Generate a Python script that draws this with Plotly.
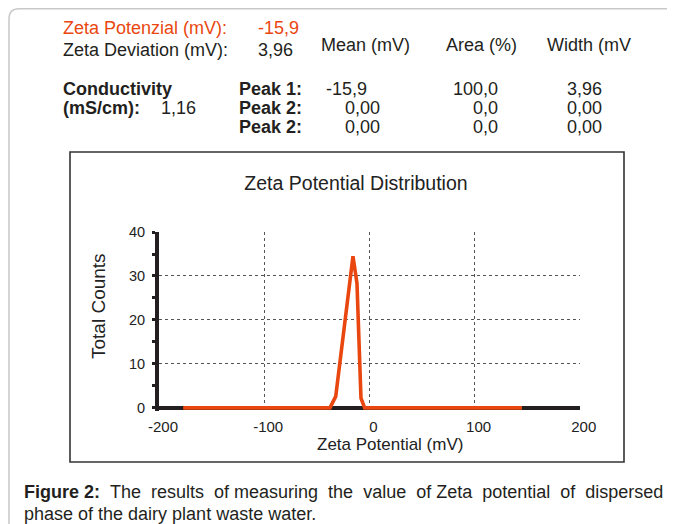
import plotly.graph_objects as go

# ---- data ----
zeta_mv = [-177, -37.5, -32, -15.6, -11.8, -8, -4.5, 145]
total_counts = [0, 0, 2.6, 34.5, 28.3, 2.2, 0, 0]

x_tick_vals = [-200, -100, 0, 100, 200]
x_tick_text = ["-200", "-100", "0", "100", "200"]
y_tick_vals = [0, 10, 20, 30, 40]
y_minor_vals = [5, 15, 25, 35]

peak_labels = ["Peak 1:", "Peak 2:", "Peak 2:"]
peak_mean = ["-15,9", "0,00", "0,00"]
peak_area = ["100,0", "0,0", "0,0"]
peak_width = ["3,96", "0,00", "0,00"]

# the page body has an 8px margin, so the figure is sized to fit the window
OFF = 8
W, H = 675 - OFF, 524 - OFF
ORANGE = "#e9470f"
INK = "#231f20"
FONT = "Liberation Sans, Arial, sans-serif"


def px(x):
    """window pixel x -> paper fraction"""
    return (x - OFF) / W


def py(y):
    """window pixel y (from top) -> paper fraction"""
    return (H - (y - OFF)) / H


fig = go.Figure()
fig.add_trace(go.Scatter(
    x=zeta_mv, y=total_counts, mode="lines",
    line=dict(color=ORANGE, width=3.6), showlegend=False, hoverinfo="skip"))

fig.update_layout(
    template="none",
    width=W, height=H,
    margin=dict(l=0, r=0, t=0, b=0, pad=0, autoexpand=False),
    paper_bgcolor="white", plot_bgcolor="white",
    showlegend=False,
    font=dict(family=FONT, color="#222222"),
    title=dict(text="Zeta Potential Distribution", x=px(356), y=py(183),
               xanchor="center", yanchor="middle", xref="paper", yref="paper",
               font=dict(size=19.5, color="#222222", family=FONT)),
    xaxis=dict(
        domain=[px(159), px(580)], range=[-200, 200.2], automargin=False,
        tickvals=x_tick_vals, ticktext=x_tick_text,
        showgrid=False, zeroline=False, showline=False, ticks="",
        ticklabelstandoff=5, ticklabelshift=4,
        tickfont=dict(size=15, color="#222222"),
        minor=dict(tickvals=[-100, 0, 100, 200], showgrid=True,
                   gridcolor="#555555", griddash="dot", gridwidth=1, ticks=""),
        fixedrange=True,
    ),
    yaxis=dict(
        domain=[py(410.5), py(231.8)], range=[-0.6, 40.05], automargin=False,
        tickvals=y_tick_vals,
        showgrid=True, gridcolor="#555555", griddash="dot", gridwidth=1,
        zeroline=True, zerolinecolor="#231f20", zerolinewidth=4,
        showline=True, linecolor="#231f20", linewidth=4,
        ticks="outside", ticklen=3, tickwidth=3, tickcolor="#231f20",
        ticklabelstandoff=4,
        tickfont=dict(size=14.5, color="#222222"),
        minor=dict(tickvals=y_minor_vals, ticks="outside", ticklen=3,
                   tickwidth=3, tickcolor="#231f20", showgrid=False),
        fixedrange=True,
    ),
)

shapes = [
    # outer light rounded frame
    dict(type="path", xref="paper", yref="paper",
         path=f"M {px(9)},{py(540)} L {px(9)},{py(19)} Q {px(9)},{py(8.8)} {px(19)},{py(8.8)} L {px(700)},{py(8.8)}",
         line=dict(color="#c8c8c8", width=1.5)),
    # inner chart box
    dict(type="rect", xref="paper", yref="paper",
         x0=px(70), x1=px(624), y0=py(462), y1=py(152),
         line=dict(color="#333333", width=1.6), fillcolor="rgba(0,0,0,0)"),
]
fig.update_layout(shapes=shapes)

anns = []


def add(text, x, y, size=18, color=INK, xanchor="left", bold=False):
    if bold:
        text = f"<b>{text}</b>"
    anns.append(dict(text=text, x=px(x), y=py(y), xref="paper", yref="paper",
                     xanchor=xanchor, yanchor="middle", showarrow=False,
                     borderpad=0,
                     font=dict(size=size, color=color, family=FONT)))


# header block
add("Zeta Potenzial (mV):", 62, 28, color=ORANGE)
add("-15,9", 257, 28, color=ORANGE)
add("Zeta Deviation (mV):", 62, 50)
add("3,96", 257, 50)
add("Mean (mV)", 320, 45)
add("Area (%)", 445, 45)
add("Width (mV", 546, 45)
add("Conductivity", 62, 89, bold=True)
add("(mS/cm):", 62, 108, bold=True)
add("1,16", 160, 108)
row_y = [89, 108, 127]
for i in range(3):
    add(peak_labels[i], 238, row_y[i], bold=True)
    if i == 0:
        add(peak_mean[i], 325, row_y[i])
    else:
        add(peak_mean[i], 381, row_y[i], xanchor="right")
    add(peak_area[i], 499, row_y[i], xanchor="right")
    add(peak_width[i], 603, row_y[i], xanchor="right")

# axis titles
add("Zeta Potential (mV)", 390, 444, size=17, color="#222222", xanchor="center")
anns.append(dict(text="Total Counts", x=px(98), y=py(306), xref="paper", yref="paper",
                 xanchor="center", yanchor="middle", textangle=-90, showarrow=False,
                 borderpad=0,
                 font=dict(size=19, color="#222222", family=FONT)))

# caption (first line justified by widening most word gaps)
words = "The results of measuring the value of Zeta potential of dispersed".split(" ")
wide, narrow = " \u00a0", " "
line1 = "<b>Figure 2:</b>" + wide
for i, w in enumerate(words):
    line1 += w
    if i < len(words) - 1:
        line1 += narrow if i in (2, 6) else wide
add(line1, 23, 492, size=18)
add("phase of the dairy plant waste water.", 23, 514, size=18)

fig.update_layout(annotations=anns)
fig.write_html("out.html")
